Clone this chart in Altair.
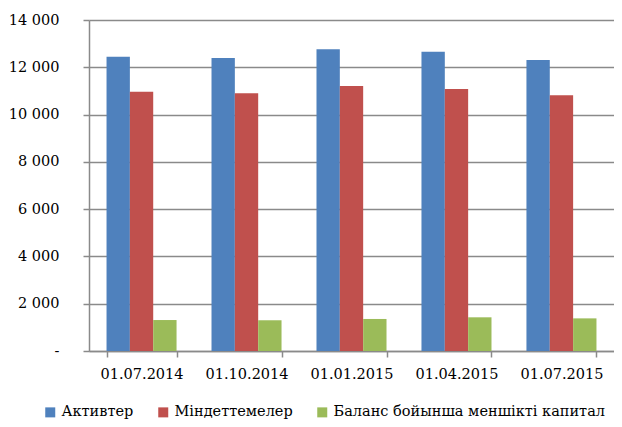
import altair as alt
import pandas as pd

dates = ["01.07.2014", "01.10.2014", "01.01.2015", "01.04.2015", "01.07.2015"]
series = ["Активтер", "Міндеттемелер", "Баланс бойынша меншікті капитал"]
assets = [12450, 12395, 12760, 12660, 12310]
liabilities = [10970, 10900, 11210, 11085, 10815]
equity = [1310, 1300, 1355, 1425, 1380]
colors = ["#4F81BD", "#C0504D", "#9BBB59"]

rows = []
for name, vals in zip(series, [assets, liabilities, equity]):
    for d, v in zip(dates, vals):
        rows.append({"date": d, "series": name, "value": v})
df = pd.DataFrame(rows)

font = "DejaVu Serif"
fs = 14.5
grid = "#8a8a8a"

chart = alt.Chart(df).mark_bar().encode(
    x=alt.X("date:N", sort=dates, title=None,
            scale=alt.Scale(paddingInner=0.333, paddingOuter=0.167),
            axis=alt.Axis(labelAngle=0, labelFont=font, labelFontSize=fs, labelColor="#000",
                          labelPadding=10, tickBand="extent", tickSize=6, tickColor=grid,
                          tickWidth=1.5, domainColor=grid, domainWidth=1.5)),
    xOffset=alt.XOffset("series:N", sort=series, scale=alt.Scale(paddingInner=0, paddingOuter=0)),
    y=alt.Y("value:Q", title=None,
            scale=alt.Scale(domain=[0, 14000], nice=False),
            axis=alt.Axis(values=[0, 2000, 4000, 6000, 8000, 10000, 12000, 14000],
                          labelExpr="datum.value == 0 ? '-' : replace(format(datum.value, ',d'), ',', ' ')",
                          labelFont=font, labelFontSize=fs, labelColor="#000",
                          labelPadding=24, tickSize=6, tickColor=grid, tickWidth=1.5,
                          domainColor=grid, domainWidth=1.5,
                          gridColor=grid, gridWidth=1.5)),
    color=alt.Color("series:N", sort=series, title=None,
                    scale=alt.Scale(domain=series, range=colors),
                    legend=alt.Legend(orient="none", direction="horizontal",
                                      legendX=-46, legendY=385,
                                      labelFont=font, labelFontSize=fs, labelColor="#000",
                                      labelLimit=400,
                                      symbolType="square", symbolSize=100, symbolStrokeWidth=0,
                                      columnPadding=22, labelOffset=4)),
).properties(
    width=525, height=331,
    padding={"left": 0, "top": 4, "right": 0, "bottom": 0},
).configure_view(stroke=None)

chart.save("out.html", embed_options={"renderer": "svg", "actions": False})
